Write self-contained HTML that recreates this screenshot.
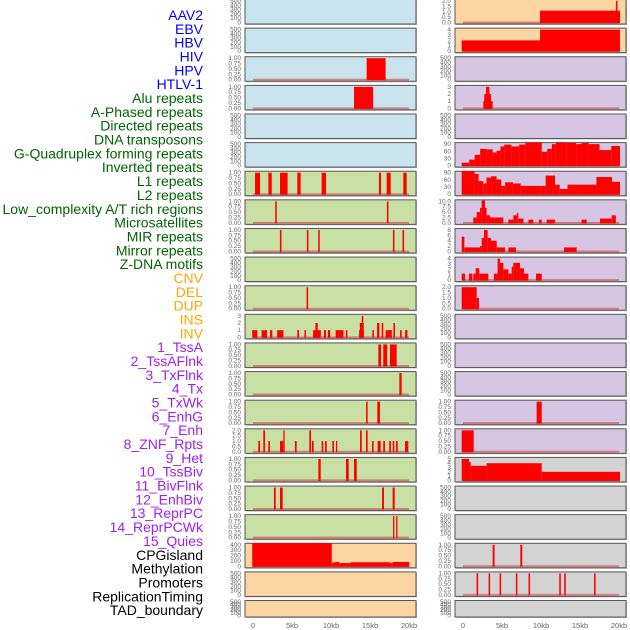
<!DOCTYPE html>
<html><head><meta charset="utf-8"><style>
html,body{margin:0;padding:0;background:#fff;width:630px;height:630px;overflow:hidden}
svg{display:block}
.lab{font-family:"Liberation Sans",sans-serif;font-size:14px}
.tk{font-family:"Liberation Sans",sans-serif;font-size:6.5px;fill:#666}
.xt{font-family:"Liberation Sans",sans-serif;font-size:7.5px;fill:#666}
</style></head><body>
<svg id="chart" width="630" height="630" xmlns="http://www.w3.org/2000/svg"></svg>
<script>
const trackLabels=["AAV2","EBV","HBV","HIV","HPV","HTLV-1","Alu repeats","A-Phased repeats","Directed repeats","DNA transposons","G-Quadruplex forming repeats","Inverted repeats","L1 repeats","L2 repeats","Low_complexity A/T rich regions","Microsatellites","MIR repeats","Mirror repeats","Z-DNA motifs","CNV","DEL","DUP","INS","INV","1_TssA","2_TssAFlnk","3_TxFlnk","4_Tx","5_TxWk","6_EnhG","7_Enh","8_ZNF_Rpts","9_Het","10_TssBiv","11_BivFlnk","12_EnhBiv","13_ReprPC","14_ReprPCWk","15_Quies","CPGisland","Methylation","Promoters","ReplicationTiming","TAD_boundary"];
const labelColors=["#0000ff","#0000ff","#0000ff","#0000ff","#0000ff","#0000ff","#006400","#006400","#006400","#006400","#006400","#006400","#006400","#006400","#006400","#006400","#006400","#006400","#006400","#ffa500","#ffa500","#ffa500","#ffa500","#ffa500","#a020f0","#a020f0","#a020f0","#a020f0","#a020f0","#a020f0","#a020f0","#a020f0","#a020f0","#a020f0","#a020f0","#a020f0","#a020f0","#a020f0","#a020f0","#000","#000","#000","#000","#000"];
const E=["0","100","200","300","400","500"], P1=["0.00","0.25","0.50","0.75","1.00"];
const leftTicks=[E,E,P1,P1,E,E,P1,P1,P1,E,P1,["0","1","2","3"],P1,P1,P1,["0.0","0.5","1.0","1.5","2.0"],P1,P1,P1,["0","100","200","300","400"],E,E];
const rightTicks=[["0.0","0.5","1.0","1.5","2.0"],["0","1","2","3","4"],E,["0","1","2","3"],E,["0","30","60","90"],["0","30","60","90"],["0.0","2.5","5.0","7.5","10.0"],["0","2","4","6","8"],["0","1","2","3","4"],["0.0","0.5","1.0","1.5","2.0"],E,E,E,P1,P1,["0","1","2","3","4","5"],E,E,P1,P1,E];
const leftBg=["#c9e4ec","#c9e4ec","#c9e4ec","#c9e4ec","#c9e4ec","#c9e4ec","#c9e0a5","#c9e0a5","#c9e0a5","#c9e0a5","#c9e0a5","#c9e0a5","#c9e0a5","#c9e0a5","#c9e0a5","#c9e0a5","#c9e0a5","#c9e0a5","#c9e0a5","#fdd5a3","#fdd5a3","#fdd5a3"];
const rightBg=["#fdd5a3","#fdd5a3","#d6c6e3","#d6c6e3","#d6c6e3","#d6c6e3","#d6c6e3","#d6c6e3","#d6c6e3","#d6c6e3","#d6c6e3","#d6c6e3","#d6c6e3","#d6c6e3","#d6c6e3","#d6c6e3","#d3d3d3","#d3d3d3","#d3d3d3","#d3d3d3","#d3d3d3","#d3d3d3"];
// segments: [startKb, endKb, value]
const leftSegs=[
 [],[],
 [[14.57,17.0,1]],
 [[12.95,15.4,1]],
 [],[],
 [[0.26,0.9,1],[1.97,2.4,1],[3.46,4.44,1],[5.68,6.11,1],[8.8,9.36,1],[16.15,16.41,1],[17.14,17.65,1],[19.27,19.7,1]],
 [[2.85,3.05,1],[17.17,17.37,1]],
 [[3.45,3.65,1],[6.91,7.11,1],[8.36,8.56,1],[17.94,18.14,1],[19.17,19.37,1]],
 [],
 [[6.87,7.07,1]],
 [[-0.1,0.55,1],[1.1,1.8,1],[2.18,2.47,1],[3.1,3.9,1],[5.68,5.9,1],[6.6,6.8,1],[7.7,8.7,1],[8.0,8.3,2],[9.1,9.36,1],[9.6,9.9,1],[10.6,11.6,1],[11.9,12.1,1],[13.6,14.2,1],[13.7,14.2,2],[13.94,14.14,3],[15.3,15.5,1],[15.9,16.2,2],[16.5,16.7,2],[17.0,17.8,1],[18.0,18.2,2],[18.85,19.06,1],[19.5,19.8,1]],
 [[16.07,16.41,1],[16.7,17.2,1],[17.56,18.42,1]],
 [[18.76,19.06,1]],
 [[14.5,14.7,1],[15.94,16.28,1]],
 [[0.68,0.9,1],[1.32,1.54,2],[1.97,2.18,1],[3.46,3.89,1],[3.89,4.06,2],[5.38,5.6,1],[7.22,7.44,2],[7.56,7.78,1],[8.8,9.0,1],[9.23,9.45,1],[10.17,10.38,1],[10.64,10.8,1],[13.72,13.94,2],[14.49,14.7,2],[15.26,15.47,1],[15.98,16.37,1],[16.7,16.92,1],[17.47,17.69,1],[17.91,18.12,1],[18.33,18.55,1],[19.49,19.91,1]],
 [[8.38,8.68,1],[11.92,12.27,1],[12.95,13.3,1]],
 [[2.69,2.91,1],[3.46,3.8,1],[16.54,16.79,1],[17.9,18.17,1]],
 [[17.95,18.12,1],[18.35,18.52,1]],
 [[-0.1,10.1,430],[10.1,10.51,70],[10.51,11.07,80],[11.07,12.52,60],[12.52,17.56,75],[17.56,17.9,60],[17.9,20.04,80]],
 [],[]
];
const rightSegs=[
 [[9.87,20.13,1.1],[19.6,19.8,2]],
 [[-0.17,9.87,2],[9.87,20.13,4]],
 [],
 [[2.6,3.8,1],[2.73,3.59,2],[2.95,3.38,3]],
 [],
 [[-0.17,0.8,12],[0.8,1.5,25],[1.5,2.2,45],[2.2,3.0,70],[3.0,3.8,68],[3.8,4.3,55],[4.3,4.8,62],[4.8,5.3,80],[5.3,6.2,88],[6.2,7.2,80],[7.2,8.0,88],[8.0,10.1,98],[10.1,10.8,58],[10.8,11.4,70],[11.4,11.9,90],[11.9,13.3,108],[13.3,14.5,95],[14.5,15.2,90],[15.2,16.1,95],[16.1,17.5,90],[17.5,19.0,65],[19.0,20.13,82]],
 [[-0.17,1.5,110],[1.5,2.0,85],[2.0,2.6,55],[2.6,3.0,45],[3.0,3.6,70],[3.6,4.3,75],[4.3,4.9,62],[4.9,5.4,35],[5.4,6.4,50],[6.4,7.4,45],[7.4,9.9,35],[9.9,10.6,35],[10.6,11.8,78],[11.8,12.4,40],[12.4,13.4,22],[13.4,15.2,40],[15.2,17.1,40],[17.1,19.1,72],[19.1,20.13,52]],
 [[1.32,1.75,2.5],[1.75,2.18,5],[2.18,2.39,7],[2.39,2.82,10.5],[2.82,3.03,7],[3.03,3.46,3.5],[3.46,5.17,2.5],[5.81,6.45,1.5],[6.45,6.88,3.5],[6.88,7.09,4.5],[7.09,7.74,2],[8.38,9.02,1.5],[9.74,10.09,1.5],[10.73,11.8,1.5],[15.2,15.85,1.5],[17.56,19.06,2],[19.06,19.6,3.5]],
 [[-0.17,0.17,5.5],[0.17,2.18,1.5],[2.18,2.39,2],[2.39,2.69,5],[2.69,3.16,8],[3.16,3.59,5],[3.59,4.32,4],[4.32,5.38,1.5],[5.81,6.79,1.5],[12.95,14.57,1.5]],
 [[-0.17,0.26,1.2],[0.77,1.2,1.2],[1.32,1.62,1.2],[1.62,2.09,2.2],[2.09,3.25,1.2],[3.97,4.44,1.2],[4.44,4.74,4],[4.74,5.17,3.2],[5.17,5.81,2],[5.81,6.24,1.2],[6.24,6.45,2.5],[6.45,7.31,3.2],[7.31,7.82,2.2],[7.82,8.38,1.2],[9.36,10.09,1.2]],
 [[-0.17,1.75,2],[1.75,2.05,1]],
 [],[],[],
 [[9.44,10.09,1]],
 [[-0.17,1.37,1]],
 [[-0.17,0.77,5],[0.77,0.98,4.3],[0.98,3.03,3.4],[3.03,10.09,4],[10.09,20.13,2]],
 [],[],
 [[3.8,4.05,1],[7.35,7.6,1]],
 [[1.74,1.94,1],[3.28,3.48,1],[4.69,4.89,1],[6.78,6.98,1],[8.4,8.6,1],[12.34,12.54,1],[12.98,13.18,1],[16.8,17.0,1]],
 []
];
const xTickKb=[0,5,10,15,20];
const xTickLabels=["0","5kb","10kb","15kb","20kb"];

const NS="http://www.w3.org/2000/svg";
const svg=document.getElementById('chart');
function mk(tag,attrs,parent){const e=document.createElementNS(NS,tag);for(const k in attrs)e.setAttribute(k,attrs[k]);(parent||svg).appendChild(e);return e;}
const pitch=28.62, ph=24.5;
const cols=[{x0:245,x1:416,zero:253,ticks:leftTicks,bg:leftBg,segs:leftSegs,side:'left'},{x0:455,x1:626,zero:463,ticks:rightTicks,bg:rightBg,segs:rightSegs,side:'right'}];
const kbPx=7.8;

trackLabels.forEach((t,i)=>{
  const e=mk('text',{x:203,y:15+i*13.84+5,'text-anchor':'end',class:'lab',fill:labelColors[i]});
  
  
  e.textContent=t;
});

cols.forEach(c=>{
  const xs=kb=>c.zero+kb*kbPx;
  for(let r=0;r<22;r++){
    const top=r*pitch-0.5, h=(r===21?16.5:ph), bot=top+h;
    const g=mk('g',{});
    
    
    mk('rect',{x:c.x0+1,y:top+1,width:c.x1-c.x0,height:h,fill:'#bbb'},g);
    const bg=mk('rect',{x:c.x0,y:top,width:c.x1-c.x0,height:h,fill:c.bg[r],stroke:'#555','stroke-width':1},g);
    
    
    const tk=c.ticks[r], max=parseFloat(tk[tk.length-1]);
    const y0=bot-1.5, y1=top+1.5;
    const ys=v=>y0-(v/max)*(y0-y1);
    tk.forEach(s=>{
      const t=mk('text',{x:c.x0-4,y:ys(parseFloat(s))+2,'text-anchor':'end',class:'tk'},g);
      
      
      t.textContent=s;
    });
    const segs=c.segs[r];
    if(segs.length){
      const bl=mk('line',{x1:xs(0),x2:xs(20),y1:y0,y2:y0,stroke:'#d05858','stroke-width':2,'stroke-opacity':0.7},g);
      
      
    }
    segs.forEach(s=>{
      const yy=ys(Math.min(s[2],max*1.08));
      const b=mk('rect',{x:xs(s[0]),y:yy,width:Math.max(1.2,xs(s[1])-xs(s[0])),height:y0-yy+0.5,fill:'#ff0000'},g);
      
      
    });
  }
  xTickKb.forEach((k,i)=>{
    const t=mk('text',{x:xs(k),y:628,'text-anchor':'middle',class:'xt'});
    
    
    t.textContent=xTickLabels[i];
  });
});
</script>
</body></html>
